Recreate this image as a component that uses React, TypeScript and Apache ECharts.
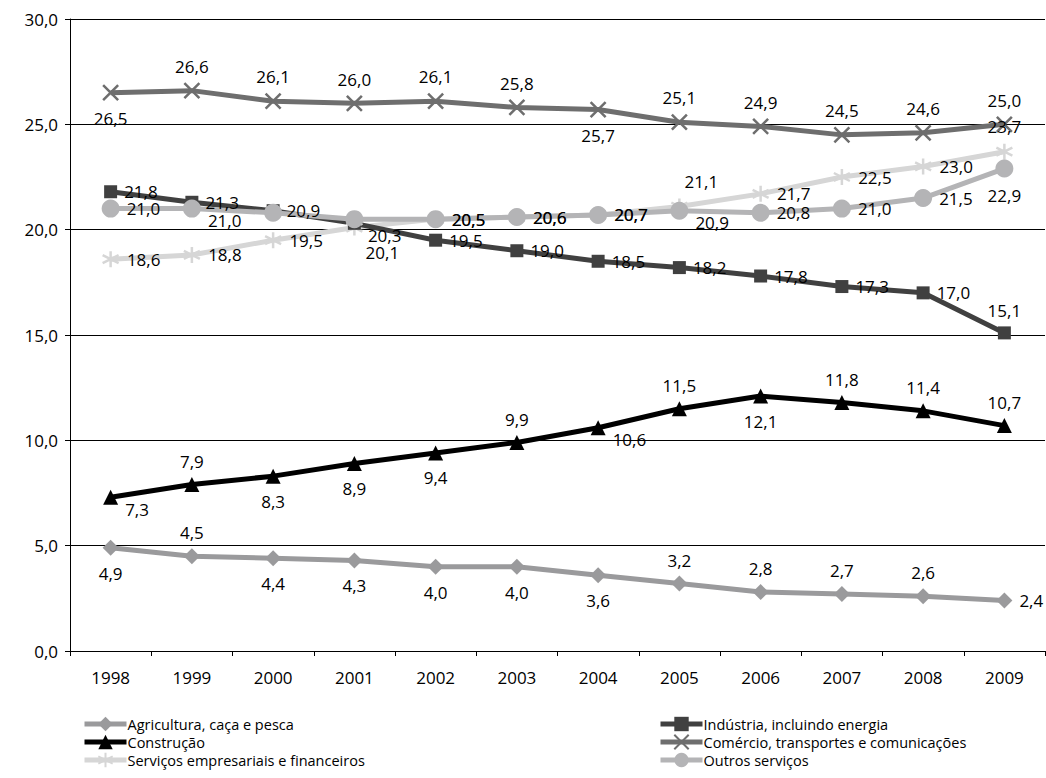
import React, { useEffect, useRef } from "react";
import * as echarts from "echarts";

const years = ["1998","1999","2000","2001","2002","2003","2004","2005","2006","2007","2008","2009"];
const agricultura = [4.9, 4.5, 4.4, 4.3, 4.0, 4.0, 3.6, 3.2, 2.8, 2.7, 2.6, 2.4];
const construcao = [7.3, 7.9, 8.3, 8.9, 9.4, 9.9, 10.6, 11.5, 12.1, 11.8, 11.4, 10.7];
const servicosEmp = [18.6, 18.8, 19.5, 20.1, 20.5, 20.6, 20.7, 21.1, 21.7, 22.5, 23.0, 23.7];
const industria = [21.8, 21.3, 20.9, 20.3, 19.5, 19.0, 18.5, 18.2, 17.8, 17.3, 17.0, 15.1];
const comercio = [26.5, 26.6, 26.1, 26.0, 26.1, 25.8, 25.7, 25.1, 24.9, 24.5, 24.6, 25.0];
const outros = [21.0, 21.0, 20.8, 20.5, 20.5, 20.6, 20.7, 20.9, 20.8, 21.0, 21.5, 22.9];

const posAgr = ["b","t","b","b","b","b","b","t","t","t","t","r"];
const posCon = ["rb","t","b","b","b","t","rb","t","b","t","t","t"];
const posSer = ["r","r","r","rb2","r","r","r","tr","r","r","r","t"];
const posInd = ["r","r","r","rb","r","r","r","r","r","r","r","t"];
const posCom = ["b","t","t","t","t","t","b","t","t","t","t","t"];
const posOut = ["r","rb","-","-","r","r","r","rb","r","r","r","b"];

const fmt = (v: number) => v.toFixed(1).replace(".", ",");
const FT = "Open Sans";

function labelFor(p: string) {
  const base: any = { show: true, color: "#000", fontSize: 17, fontFamily: FT, distance: 7 };
  switch (p) {
    case "-": return { show: false };
    case "r": return { ...base, position: "right" };
    case "rb": return { ...base, position: "right", offset: [0, 12] };
    case "rb2": return { ...base, position: "bottom", offset: [28, 0] };
    case "tr": return { ...base, position: "top", offset: [22, 0] };
    case "t": return { ...base, position: "top" };
    case "b": return { ...base, position: "bottom", distance: 9 };
  }
  return base;
}

const star = "path://M0,-10L0,10M-8.66,-5L8.66,5M-8.66,5L8.66,-5";
const cross = "path://M-8,-8L8,8M-8,8L8,-8";

function mk(name: string, vals: number[], pos: string[], color: string, symbol: string, size: number, stroke = false) {
  return {
    name, type: "line", data: vals.map((v, i) => ({ value: v, label: labelFor(pos[i]) })),
    symbol, symbolSize: size,
    lineStyle: { color, width: 5 },
    itemStyle: stroke ? { color, borderColor: color, borderWidth: 2.5 } : { color },
    label: { formatter: (p: any) => fmt(p.value) },
  };
}

const legendBase = {
  orient: "vertical", top: 715, height: 62, padding: 0, itemGap: 0, itemWidth: 42, itemHeight: 18,
  lineStyle: { width: 5 },
  textStyle: { fontSize: 14.5, color: "#000", lineHeight: 18, padding: [0, 0, 0, -4], fontFamily: FT },
};

export default function App() {
  const ref = useRef<HTMLDivElement>(null);
  useEffect(() => {
    const chart = echarts.init(ref.current!, null, { renderer: "svg" });
    chart.setOption({
      animation: false,
      textStyle: { fontFamily: FT },
      grid: { left: 70, right: 1, top: 19, bottom: 127 },
      xAxis: {
        type: "category", data: years, boundaryGap: true,
        axisLine: { lineStyle: { color: "#000", width: 1 } },
        axisTick: { show: true, lineStyle: { color: "#000" }, length: 5 },
        axisLabel: { color: "#000", fontSize: 17, margin: 18, fontFamily: FT },
      },
      yAxis: {
        type: "value", min: 0, max: 30, interval: 5,
        axisLine: { show: true, lineStyle: { color: "#000" } },
        axisTick: { show: true, length: 5, lineStyle: { color: "#000" } },
        splitLine: { lineStyle: { color: "#000", width: 1 } },
        axisLabel: { color: "#000", fontSize: 17, margin: 12, formatter: (v: number) => fmt(v), fontFamily: FT },
      },
      legend: [
        { ...legendBase, left: 82, data: ["Agricultura, caça e pesca", "Construção", "Serviços empresariais e financeiros"] },
        { ...legendBase, left: 658, data: ["Indústria, incluindo energia", "Comércio, transportes e comunicações", "Outros serviços"] },
      ],
      series: [
        mk("Agricultura, caça e pesca", agricultura, posAgr, "#9a9a9c", "diamond", 16),
        mk("Construção", construcao, posCon, "#000000", "triangle", 15),
        mk("Serviços empresariais e financeiros", servicosEmp, posSer, "#d6d6d6", star, 16, true),
        mk("Indústria, incluindo energia", industria, posInd, "#404040", "rect", 13),
        mk("Comércio, transportes e comunicações", comercio, posCom, "#6e6e6e", cross, 15, true),
        mk("Outros serviços", outros, posOut, "#b4b4b6", "circle", 18),
      ],
    });
    return () => chart.dispose();
  }, []);
  return <div ref={ref} style={{ width: 1046, height: 778, position: "absolute", left: 0, top: 0 }} />;
}
